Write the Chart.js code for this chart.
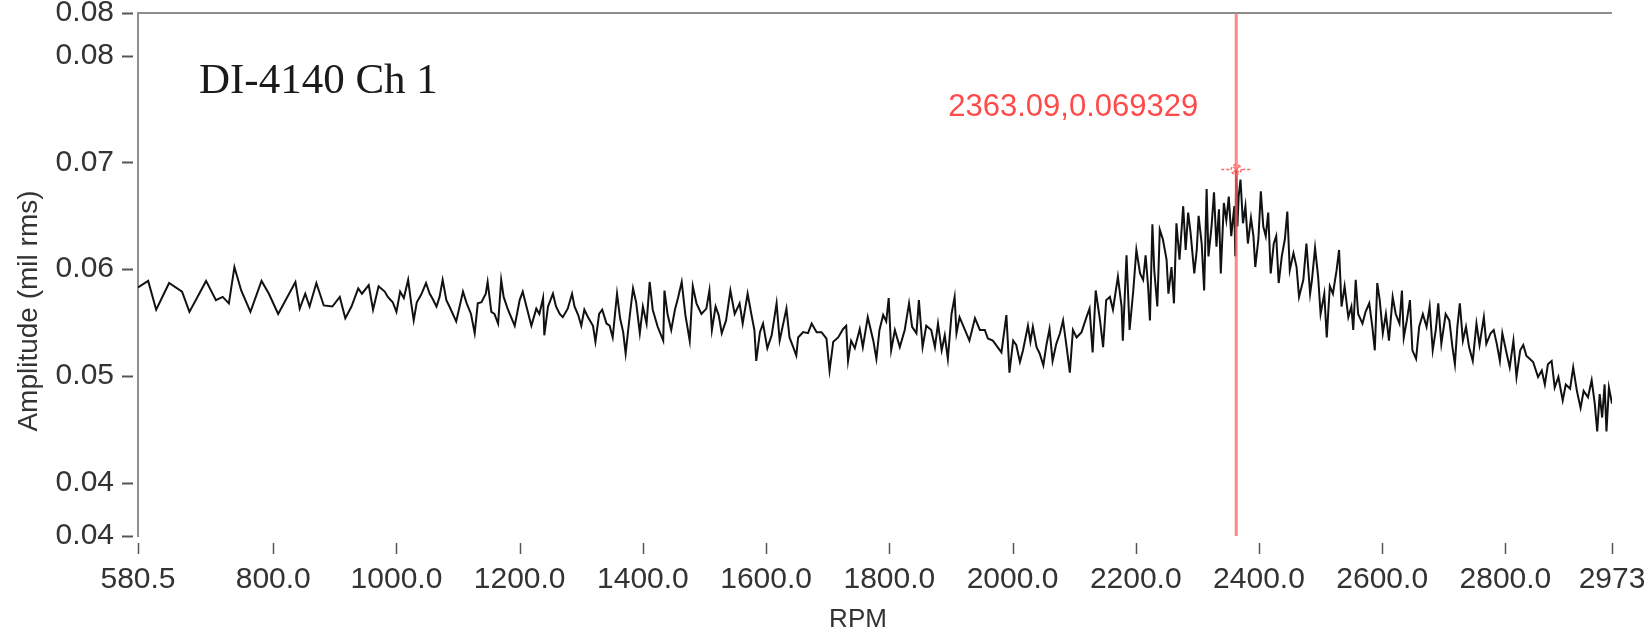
<!DOCTYPE html>
<html>
<head>
<meta charset="utf-8">
<title>DI-4140 Ch 1</title>
<script src="https://cdn.jsdelivr.net/npm/chart.js@4.4.1/dist/chart.umd.min.js"></script>
<style>
  html, body { margin: 0; padding: 0; background: #ffffff; }
  #wrap { width: 1648px; height: 636px; }
</style>
</head>
<body>
<div id="wrap"><canvas id="c" width="1648" height="636"></canvas></div>
<script>
// Order-tracking sweep, channel 1: speed (RPM) vs vibration amplitude (mil rms)
const rpm = [
  580.5, 597, 610, 631, 652, 664, 691, 707, 718, 728, 737, 748, 763, 781, 793, 808,
  836, 843, 852, 859, 870, 882, 896, 908, 917, 927, 938, 944, 955, 962, 971,
  981, 986, 994, 1000, 1006, 1012, 1019, 1024, 1028, 1033, 1040, 1048, 1054, 1058, 1065,
  1070, 1075, 1081, 1086, 1097, 1108, 1114, 1121, 1127, 1132, 1138, 1145, 1148, 1154,
  1159, 1165, 1170, 1174, 1181, 1192, 1200, 1205, 1211, 1219, 1227, 1232, 1238, 1240,
  1246, 1254, 1259, 1265, 1270, 1278, 1285, 1289, 1295, 1300, 1305, 1311, 1319, 1323,
  1329, 1334, 1341, 1346, 1351, 1358, 1363, 1368, 1372,
  1379, 1384, 1389, 1395, 1400, 1406, 1411, 1416, 1424, 1433, 1435, 1440, 1446, 1452,
  1457, 1463, 1469, 1476, 1481, 1487, 1495, 1503, 1508, 1512, 1518, 1523, 1528, 1535,
  1542, 1549, 1557, 1562, 1570, 1576, 1581, 1584, 1590, 1595, 1602, 1609, 1617, 1622,
  1633, 1638, 1644, 1649, 1652, 1660, 1668, 1674, 1682, 1690, 1698, 1703, 1709, 1717,
  1725, 1730, 1733, 1738, 1744, 1752, 1757, 1765,
  1774, 1779, 1784, 1790, 1795, 1799, 1803, 1809, 1817, 1825, 1832, 1837, 1844, 1848,
  1854, 1860, 1868, 1874, 1879, 1885, 1890, 1895, 1901, 1906, 1909, 1914, 1922, 1930,
  1939, 1947, 1955, 1960, 1968, 1982, 1990, 1995, 2001, 2006, 2012, 2017, 2025, 2029,
  2033, 2039, 2044, 2050, 2055, 2060, 2065, 2071, 2077, 2082, 2088, 2093, 2098, 2104,
  2112, 2120, 2125, 2130, 2135, 2142, 2147, 2152, 2158, 2163,
  2171, 2177, 2179, 2185, 2190, 2196, 2201, 2207, 2212, 2216, 2220, 2223, 2227, 2230,
  2235, 2239, 2244, 2250, 2253, 2258, 2262, 2266, 2271, 2277, 2281, 2285, 2289, 2295,
  2299, 2302, 2307, 2311, 2315, 2318, 2323, 2327, 2331, 2335, 2338, 2343, 2347, 2351,
  2355, 2360, 2361.5, 2363.09, 2365, 2367, 2370, 2374, 2378, 2382, 2387, 2391, 2394, 2399,
  2403, 2407, 2411, 2415, 2419, 2424, 2428, 2432, 2437, 2442, 2446, 2450, 2456, 2461,
  2465, 2472, 2477, 2483, 2486, 2491, 2496, 2500, 2506, 2510, 2515, 2520, 2526, 2530,
  2534, 2539, 2545, 2550, 2553, 2557,
  2561, 2568, 2573, 2579, 2584, 2588, 2592, 2596, 2601, 2606, 2611, 2617, 2622, 2628,
  2632, 2635, 2640, 2645, 2649, 2655, 2660, 2666, 2672, 2677, 2682, 2687, 2691, 2696,
  2703, 2709, 2714, 2718, 2722, 2726, 2731, 2736, 2741, 2747, 2753, 2758, 2765, 2769,
  2776, 2781, 2786, 2791, 2795, 2802, 2807, 2813, 2818, 2824, 2829, 2834, 2845, 2853,
  2859, 2864, 2869, 2875, 2880, 2886, 2893, 2898, 2905, 2910, 2916, 2922, 2927, 2934,
  2940, 2945, 2949, 2953, 2957, 2961, 2964, 2968, 2973
];

const amplitude = [
  0.0583, 0.0589, 0.0562, 0.0587, 0.0579, 0.0560, 0.0589, 0.0571, 0.0574, 0.0568, 0.0602, 0.0580, 0.0560, 0.0589, 0.0577, 0.0558,
  0.0588, 0.0563, 0.0577, 0.0565, 0.0587, 0.0566, 0.0565, 0.0574, 0.0554, 0.0565, 0.0582, 0.0577, 0.0585, 0.0562, 0.0584,
  0.0579, 0.0574, 0.0569, 0.0560, 0.0579, 0.0573, 0.0590, 0.0568, 0.0552, 0.0569, 0.0576, 0.0587, 0.0577, 0.0573, 0.0565,
  0.0574, 0.0590, 0.0571, 0.0565, 0.0551, 0.0579, 0.0568, 0.0558, 0.0540, 0.0568, 0.0569, 0.0577, 0.0588, 0.0560,
  0.0558, 0.0549, 0.0590, 0.0574, 0.0562, 0.0547, 0.0571, 0.0579, 0.0565, 0.0547, 0.0563, 0.0558, 0.0573, 0.0538,
  0.0565, 0.0577, 0.0565, 0.0558, 0.0555, 0.0563, 0.0577, 0.0565, 0.0557, 0.0547, 0.0562, 0.0555, 0.0547, 0.0532,
  0.0558, 0.0562, 0.0549, 0.0547, 0.0536, 0.0577, 0.0554, 0.0541, 0.0521,
  0.0558, 0.0582, 0.0569, 0.0540, 0.0565, 0.0549, 0.0588, 0.0562, 0.0546, 0.0533, 0.0580, 0.0558, 0.0543, 0.0562,
  0.0573, 0.0588, 0.0557, 0.0533, 0.0584, 0.0568, 0.0558, 0.0563, 0.0580, 0.0543, 0.0565, 0.0557, 0.0540, 0.0552,
  0.0580, 0.0558, 0.0568, 0.0549, 0.0577, 0.0558, 0.0543, 0.0514, 0.0541, 0.0549, 0.0526, 0.0538, 0.0568, 0.0533,
  0.0563, 0.0536, 0.0527, 0.0519, 0.0536, 0.0541, 0.0540, 0.0549, 0.0541, 0.0541, 0.0535, 0.0505, 0.0532, 0.0536,
  0.0544, 0.0547, 0.0514, 0.0533, 0.0526, 0.0544, 0.0527, 0.0555,
  0.0533, 0.0516, 0.0543, 0.0557, 0.0551, 0.0573, 0.0524, 0.0543, 0.0527, 0.0543, 0.0568, 0.0546, 0.0540, 0.0571,
  0.0527, 0.0547, 0.0543, 0.0527, 0.0549, 0.0524, 0.0538, 0.0516, 0.0558, 0.0574, 0.0540, 0.0555, 0.0544, 0.0533,
  0.0554, 0.0543, 0.0543, 0.0535, 0.0533, 0.0522, 0.0557, 0.0503, 0.0533, 0.0529, 0.0513, 0.0524, 0.0547, 0.0532,
  0.0546, 0.0527, 0.0521, 0.0510, 0.0529, 0.0544, 0.0514, 0.0530, 0.0540, 0.0552, 0.0526, 0.0503, 0.0543, 0.0536,
  0.0541, 0.0555, 0.0563, 0.0522, 0.0580, 0.0552, 0.0527, 0.0571, 0.0574, 0.0562,
  0.0593, 0.0565, 0.0533, 0.0613, 0.0543, 0.0580, 0.0618, 0.0596, 0.0590, 0.0613, 0.0584, 0.0552, 0.0642, 0.0599,
  0.0565, 0.0637, 0.0628, 0.0609, 0.0577, 0.0602, 0.0568, 0.0643, 0.0609, 0.0659, 0.0618, 0.0653, 0.0634, 0.0596,
  0.0618, 0.0650, 0.0624, 0.0580, 0.0675, 0.0612, 0.0640, 0.0672, 0.0621, 0.0656, 0.0596, 0.0662, 0.0646, 0.0668,
  0.0631, 0.0659, 0.0612, 0.069329, 0.0640, 0.0668, 0.0684, 0.0643, 0.0659, 0.0624, 0.0648, 0.0631, 0.0602, 0.0628,
  0.0673, 0.0640, 0.0631, 0.0653, 0.0596, 0.0624, 0.0631, 0.0587, 0.0612, 0.0628, 0.0654, 0.0599, 0.0615, 0.0602,
  0.0574, 0.0590, 0.0624, 0.0577, 0.0590, 0.0620, 0.0593, 0.0558, 0.0577, 0.0536, 0.0584, 0.0577, 0.0599, 0.0618,
  0.0565, 0.0584, 0.0555, 0.0565, 0.0543, 0.0590,
  0.0558, 0.0549, 0.0560, 0.0568, 0.0546, 0.0524, 0.0587, 0.0571, 0.0540, 0.0558, 0.0533, 0.0574, 0.0558, 0.0549,
  0.0580, 0.0536, 0.0552, 0.0571, 0.0524, 0.0516, 0.0546, 0.0558, 0.0546, 0.0565, 0.0524, 0.0543, 0.0568, 0.0530,
  0.0558, 0.0552, 0.0527, 0.0511, 0.0546, 0.0568, 0.0533, 0.0546, 0.0527, 0.0514, 0.0549, 0.0529, 0.0555, 0.0530,
  0.0540, 0.0543, 0.0530, 0.0514, 0.0540, 0.0521, 0.0508, 0.0533, 0.0499, 0.0524, 0.0529, 0.0519, 0.0513, 0.0499,
  0.0505, 0.0492, 0.0511, 0.0514, 0.0489, 0.0499, 0.0477, 0.0492, 0.0488, 0.0508, 0.0486, 0.0470, 0.0486, 0.0480,
  0.0496, 0.0474, 0.0448, 0.0483, 0.0461, 0.0492, 0.0448, 0.0489, 0.0474
];

// Axis ticks and their printed labels
const xTickValues = [580.5, 800, 1000, 1200, 1400, 1600, 1800, 2000, 2200, 2400, 2600, 2800, 2973];
const xTickLabels = ['580.5', '800.0', '1000.0', '1200.0', '1400.0', '1600.0', '1800.0', '2000.0',
                     '2200.0', '2400.0', '2600.0', '2800.0', '2973'];
const yTickValues = [0.035, 0.04, 0.05, 0.06, 0.07, 0.08, 0.084];
const yTickLabels = ['0.04', '0.04', '0.05', '0.06', '0.07', '0.08', '0.08'];

// Peak cursor
const peakRpm = 2363.09;
const peakAmp = 0.069329;

const xMin = 580.5, xMax = 2973;
const yMin = 0.035, yMax = 0.084;

const TICK_FONT = { family: 'Liberation Sans', size: 30, lineHeight: 0.8 };
const TEXT_COLOR = '#333333';
const FRAME_COLOR = '#8e8e8e';
const CURSOR_COLOR = 'rgba(255, 95, 95, 0.75)';

// Extra drawing: frame top line, detached tick marks, titles, cursor marker and readout
const decorations = {
  id: 'decorations',
  afterDraw(chart) {
    const { ctx, chartArea: a, scales: { x, y } } = chart;
    ctx.save();

    // top frame line
    ctx.strokeStyle = FRAME_COLOR;
    ctx.lineWidth = 2;
    ctx.beginPath();
    ctx.moveTo(a.left, a.top);
    ctx.lineTo(a.right, a.top);
    ctx.stroke();

    // y tick marks, set off a little from the axis line
    ctx.strokeStyle = '#555555';
    ctx.lineWidth = 2;
    yTickValues.forEach(v => {
      const py = Math.round(y.getPixelForValue(v)) + 0.5;
      ctx.beginPath();
      ctx.moveTo(a.left - 16, py);
      ctx.lineTo(a.left - 5, py);
      ctx.stroke();
    });

    // x tick marks below the plot
    ctx.lineWidth = 1.5;
    xTickValues.forEach(v => {
      const px = Math.round(x.getPixelForValue(v)) + 0.5;
      ctx.beginPath();
      ctx.moveTo(px, a.bottom + 7);
      ctx.lineTo(px, a.bottom + 18);
      ctx.stroke();
    });

    // axis titles
    ctx.fillStyle = TEXT_COLOR;
    ctx.textAlign = 'center';
    ctx.textBaseline = 'middle';
    ctx.font = '26px "Liberation Sans"';
    ctx.fillText('RPM', 858, 620);
    ctx.save();
    ctx.translate(29, 311);
    ctx.rotate(-Math.PI / 2);
    ctx.font = '28px "Liberation Sans"';
    ctx.fillText('Amplitude (mil rms)', 0, 0);
    ctx.restore();

    // plot caption
    ctx.fillStyle = '#1a1a1a';
    ctx.textAlign = 'left';
    ctx.textBaseline = 'alphabetic';
    ctx.font = '43px "Liberation Serif"';
    ctx.fillText('DI-4140 Ch 1', 199, 93);

    // cursor marker at the peak
    const cx = x.getPixelForValue(peakRpm);
    const cy = y.getPixelForValue(peakAmp);
    ctx.strokeStyle = '#ff6a6a';
    ctx.lineWidth = 1.5;
    ctx.setLineDash([3, 2]);
    ctx.beginPath();
    ctx.arc(cx, cy, 5, 0, Math.PI * 2);
    ctx.stroke();
    ctx.beginPath();
    ctx.moveTo(cx - 15, cy); ctx.lineTo(cx - 6, cy);
    ctx.moveTo(cx + 6, cy); ctx.lineTo(cx + 15, cy);
    ctx.moveTo(cx - 3, cy - 3); ctx.lineTo(cx + 3, cy + 3);
    ctx.moveTo(cx + 3, cy - 3); ctx.lineTo(cx - 3, cy + 3);
    ctx.stroke();
    ctx.setLineDash([]);

    // cursor readout
    ctx.fillStyle = '#ff4a4a';
    ctx.textAlign = 'right';
    ctx.textBaseline = 'middle';
    ctx.font = '31px "Liberation Sans"';
    ctx.fillText(peakRpm + ',' + peakAmp, cx - 38, 107);

    ctx.restore();
  }
};

new Chart(document.getElementById('c'), {
  type: 'line',
  data: {
    datasets: [
      {
        label: 'Ch 1',
        data: rpm.map((r, i) => ({ x: r, y: amplitude[i] })),
        borderColor: '#111111',
        borderWidth: 2,
        pointRadius: 0,
        tension: 0,
        order: 2
      },
      {
        label: 'cursor',
        data: [{ x: peakRpm, y: yMin }, { x: peakRpm, y: yMax }],
        borderColor: CURSOR_COLOR,
        borderWidth: 3,
        pointRadius: 0,
        order: 1
      }
    ]
  },
  options: {
    responsive: false,
    devicePixelRatio: 1,
    animation: false,
    events: [],
    layout: { padding: { top: 13, right: 36, left: 0, bottom: 0 } },
    plugins: { legend: { display: false }, tooltip: { enabled: false } },
    scales: {
      x: {
        type: 'linear',
        min: xMin,
        max: xMax,
        afterBuildTicks: s => { s.ticks = xTickValues.map(v => ({ value: v })); },
        afterFit: s => { s.height = 100; s.paddingLeft = 0; s.paddingRight = 0; },
        grid: { display: false },
        border: { display: false },
        ticks: {
          autoSkip: false,
          maxRotation: 0,
          padding: 18,
          font: { family: 'Liberation Sans', size: 30 },
          color: TEXT_COLOR,
          callback: (v, i) => xTickLabels[i]
        }
      },
      y: {
        type: 'linear',
        min: yMin,
        max: yMax,
        afterBuildTicks: s => { s.ticks = yTickValues.map(v => ({ value: v })); },
        afterFit: s => { s.width = 138; s.paddingTop = 0; s.paddingBottom = 0; },
        grid: { display: false },
        border: { display: true, color: FRAME_COLOR, width: 2 },
        ticks: {
          autoSkip: false,
          padding: 16,
          font: TICK_FONT,
          color: TEXT_COLOR,
          callback: (v, i) => yTickLabels[i]
        }
      }
    }
  },
  plugins: [decorations]
});
</script>
</body>
</html>
